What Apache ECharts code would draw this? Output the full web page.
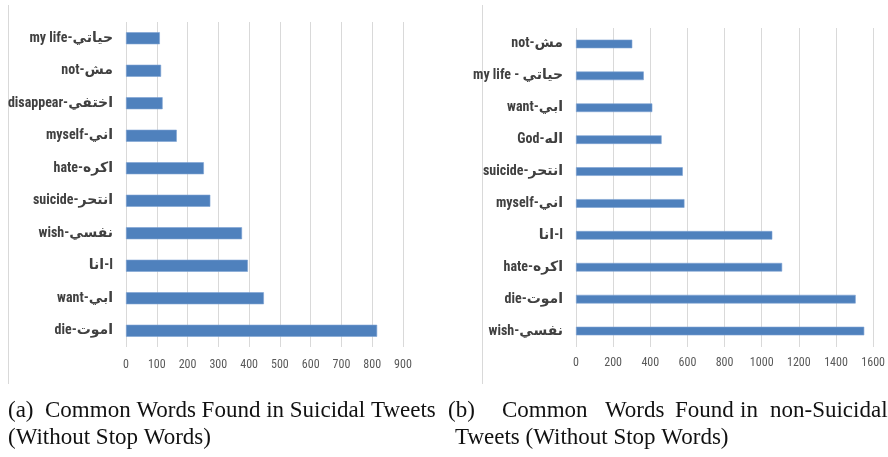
<!DOCTYPE html>
<html>
<head>
<meta charset="utf-8">
<script src="https://cdn.jsdelivr.net/npm/echarts@6/dist/echarts.min.js"></script>
<style>html,body{margin:0;padding:0;background:#fff}#c{width:888px;height:457px}</style>
</head>
<body>
<div id="c"></div>
<script>
// Left chart: suicidal tweets (top to bottom)
const leftCategories = ['my life-حياتي', 'not-مش', 'disappear-اختفي', 'myself-اني', 'hate-اكره', 'suicide-انتحر', 'wish-نفسي', 'انا-I', 'want-ابي', 'die-اموت'];
const leftValues = [110, 114, 119, 165, 253, 274, 377, 396, 448, 816];
const leftTicks = { min: 0, max: 900, interval: 100 };

// Right chart: non-suicidal tweets (top to bottom)
const rightCategories = ['not-مش', 'my life - حياتي', 'want-ابي', 'God-اله', 'suicide-انتحر', 'myself-اني', 'انا-I', 'hate-اكره', 'die-اموت', 'wish-نفسي'];
const rightValues = [303, 365, 411, 461, 575, 584, 1057, 1110, 1506, 1552];
const rightTicks = { min: 0, max: 1600, interval: 200 };

const narrow = '"Liberation Sans Narrow", "Roboto Condensed", "Arial Narrow", "Liberation Sans", "DejaVu Sans", sans-serif';
const serif = '"Liberation Serif", "DejaVu Serif", serif';
const barColor = '#4f81bd';
const gridColor = '#d9d9d9';

function catAxis(idx, data) {
  return {
    type: 'category', gridIndex: idx, data: data, inverse: true,
    axisLine: { show: false }, axisTick: { show: false },
    axisLabel: { color: '#404040', fontFamily: narrow, fontWeight: 'bold', fontSize: 14, margin: 13 }
  };
}
function valAxis(idx, t, margin) {
  return {
    type: 'value', gridIndex: idx, min: t.min, max: t.max, interval: t.interval,
    axisLine: { show: false }, axisTick: { show: false },
    splitLine: { show: true, lineStyle: { color: gridColor, width: 1 } },
    axisLabel: { color: '#595959', fontFamily: narrow, fontSize: 12, margin: margin,
      formatter: function (v) { return String(v); } }
  };
}

const capStyle = { fontFamily: serif, fontSize: 23, fill: '#111' };
function cap(x, y, text) { return { type: 'text', left: x, top: y, style: Object.assign({ text: text }, capStyle) }; }

const chart = echarts.init(document.getElementById('c'));
chart.setOption({
  animation: false,
  grid: [
    { left: 126, right: 485, top: 22, bottom: 110 },
    { left: 576, right: 12, top: 28, bottom: 110 }
  ],
  yAxis: [catAxis(0, leftCategories), catAxis(1, rightCategories)],
  xAxis: [valAxis(0, leftTicks, 12), valAxis(1, rightTicks, 10)],
  series: [
    { type: 'bar', xAxisIndex: 0, yAxisIndex: 0, data: leftValues, barWidth: '37%',
      itemStyle: { color: barColor, borderColor: '#7ea3d3', borderWidth: 0.6 } },
    { type: 'bar', xAxisIndex: 1, yAxisIndex: 1, data: rightValues, barWidth: '27%',
      itemStyle: { color: barColor, borderColor: '#7ea3d3', borderWidth: 0.6 } }
  ],
  graphic: [
    { type: 'line', shape: { x1: 8.5, y1: 5, x2: 8.5, y2: 384 }, style: { stroke: gridColor, lineWidth: 1 } },
    { type: 'line', shape: { x1: 482.5, y1: 5, x2: 482.5, y2: 384 }, style: { stroke: gridColor, lineWidth: 1 } },
    cap(8, 399, '(a)  Common Words Found in Suicidal Tweets'),
    cap(448, 399, '(b)'),
    cap(502, 399, 'Common'),
    cap(605, 399, 'Words'),
    cap(675, 399, 'Found'),
    cap(740, 399, 'in'),
    cap(770, 399, 'non-Suicidal'),
    cap(8, 426, '(Without Stop Words)'),
    cap(455, 426, 'Tweets (Without Stop Words)')
  ]
});
</script>
</body>
</html>
